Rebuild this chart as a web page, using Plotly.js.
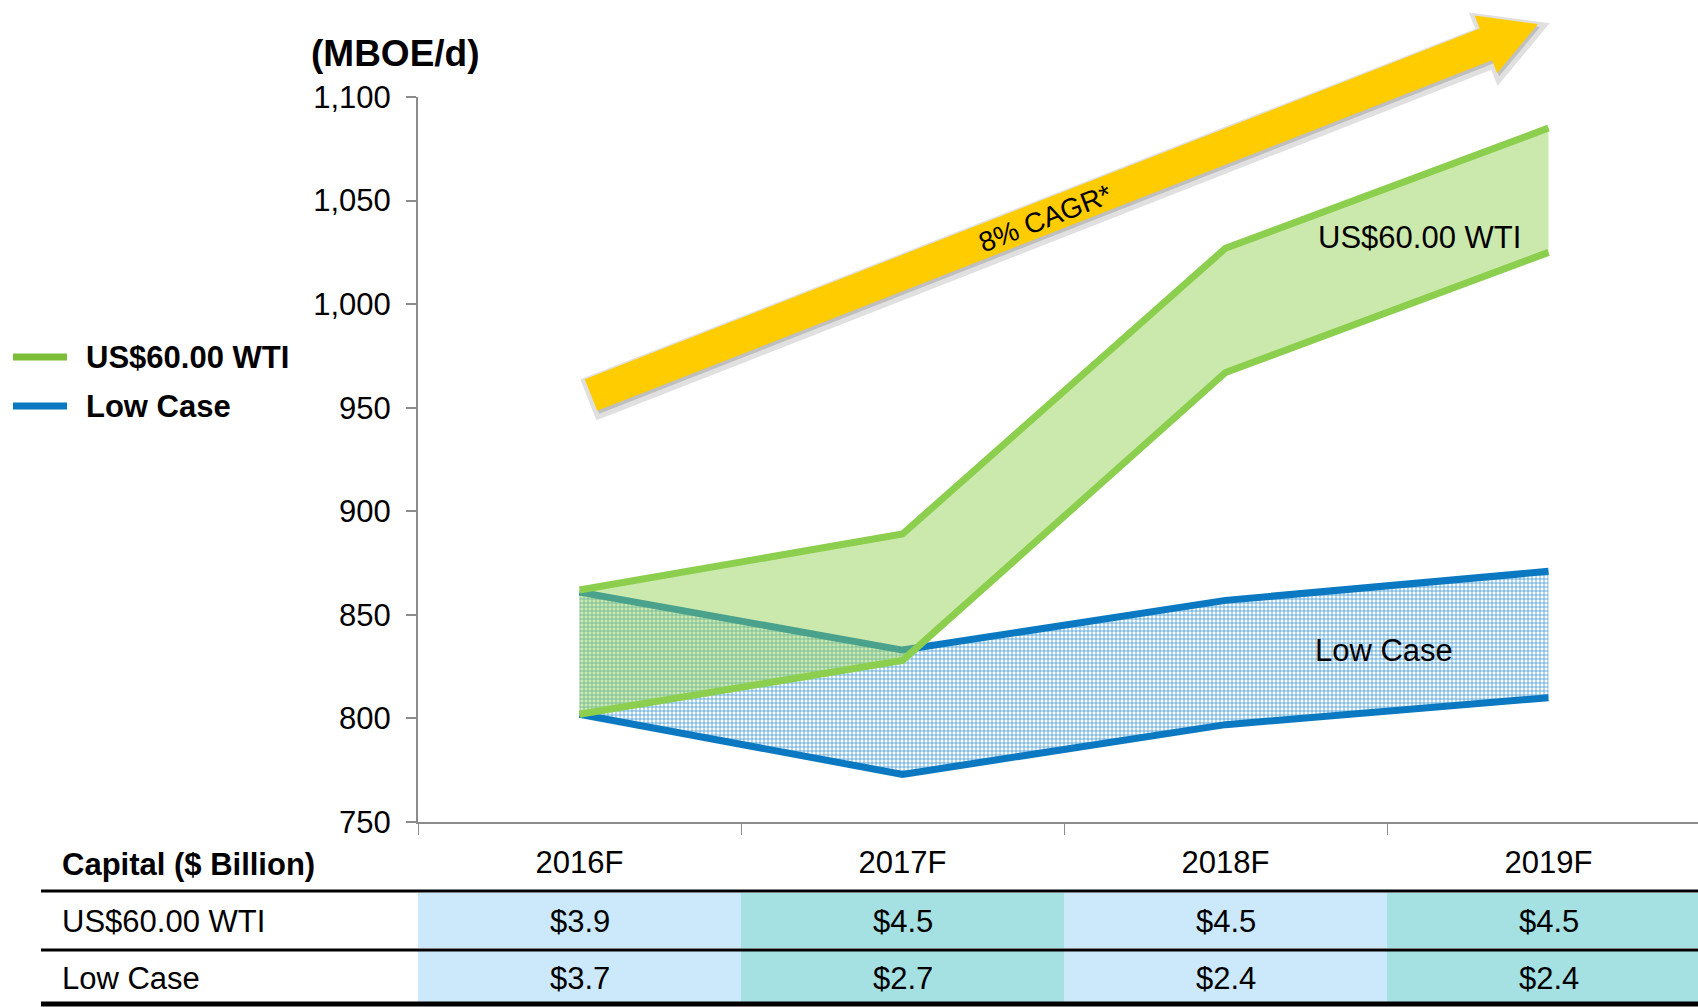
<!DOCTYPE html>
<html>
<head>
<meta charset="utf-8">
<script src="https://cdn.plot.ly/plotly-3.0.1.min.js"></script>
<style>
  body { margin: 0; background: #fff; }
  #plot { width: 1698px; height: 1007px; }
</style>
</head>
<body>
<div id="plot"></div>
<script>
// Categories and production ranges (MBOE/d)
let years = ["2016F", "2017F", "2018F", "2019F"]
let wtiHigh = [862, 889, 1027, 1085]
let wtiLow = [802, 828, 967, 1025]
let lowHigh = [861, 833, 857, 871]
let lowLow = [802, 773, 797, 810]

// Capital table ($ Billion)
let capitalRows = ["US$60.00 WTI", "Low Case"]
let capitalWti = ["$3.9", "$4.5", "$4.5", "$4.5"]
let capitalLow = ["$3.7", "$2.7", "$2.4", "$2.4"]

let font = "Liberation Sans, Arial, sans-serif"
let green = "#8ccf4e"
let blue = "#0a79c1"

// plot area in pixels, used to place decorations in paper units
let L = 418, R = 1698, T = 97, B = 822
let W = R - L, H = B - T
function px(x) { return (x - L) / W }
function py(y) { return (B - y) / H }

// Traces: band lower edge, then band upper edge filled to it
let trace1 = {
  x: years, y: lowLow, type: "scatter", mode: "lines",
  line: {color: blue, width: 7}, showlegend: false, hoverinfo: "skip"
}
let trace2 = {
  x: years, y: lowHigh, type: "scatter", mode: "lines", fill: "tonexty",
  fillcolor: "rgba(190,222,245,1)",
  fillpattern: {shape: "+", fgcolor: "#3d97d3", bgcolor: "rgba(255,255,255,1)", size: 4, solidity: 0.35},
  line: {color: blue, width: 7}, showlegend: false, hoverinfo: "skip"
}
let trace3 = {
  x: years, y: wtiLow, type: "scatter", mode: "lines",
  line: {color: green, width: 7}, showlegend: false, hoverinfo: "skip"
}
let trace4 = {
  x: years, y: wtiHigh, type: "scatter", mode: "lines", fill: "tonexty",
  fillcolor: "rgba(146,208,80,0.47)",
  line: {color: green, width: 7}, showlegend: false, hoverinfo: "skip"
}

let data = [trace1, trace2, trace3, trace4]

// Growth arrow polygon (pixels -> paper)
let tail = [591, 395], tip = [1538, 24]
let len = Math.hypot(tip[0] - tail[0], tip[1] - tail[1])
let u = [(tip[0] - tail[0]) / len, (tip[1] - tail[1]) / len]
let n = [-u[1], u[0]]
let hw = 17, hh = 31, hl = 56
let base = [tip[0] - u[0] * hl, tip[1] - u[1] * hl]
function arrowPath(dx, dy) {
  let pts = [
    [tail[0] + n[0] * hw, tail[1] + n[1] * hw],
    [base[0] + n[0] * hw, base[1] + n[1] * hw],
    [base[0] + n[0] * hh, base[1] + n[1] * hh],
    tip,
    [base[0] - n[0] * hh, base[1] - n[1] * hh],
    [base[0] - n[0] * hw, base[1] - n[1] * hw],
    [tail[0] - n[0] * hw, tail[1] - n[1] * hw]
  ]
  return pts.map((p, i) => (i ? "L" : "M") + px(p[0] + dx) + "," + py(p[1] + dy)).join(" ") + " Z"
}
let angle = Math.atan2(tip[1] - tail[1], tip[0] - tail[0]) * 180 / Math.PI

let shapes = [
  {type: "path", xref: "paper", yref: "paper", path: arrowPath(2, 3), fillcolor: "rgba(130,130,130,0.35)", line: {color: "rgba(130,130,130,0.25)", width: 10}, layer: "below"},
  {type: "path", xref: "paper", yref: "paper", path: arrowPath(0, 0), fillcolor: "#ffcc00", line: {width: 0}, layer: "below"},
  // legend keys
  {type: "line", xref: "paper", yref: "paper", x0: px(13), x1: px(67), y0: py(357), y1: py(357), line: {color: "#7bbd37", width: 7}},
  {type: "line", xref: "paper", yref: "paper", x0: px(13), x1: px(67), y0: py(406), y1: py(406), line: {color: blue, width: 7}}
]

// Table cells
let rowTop = [893, 951], rowBot = [948, 1003]
let cellColors = ["#cce9fb", "#a5e0e3"]
for (let r = 0; r < 2; r++) {
  for (let i = 0; i < years.length; i++) {
    shapes.push({
      type: "rect", xref: "x", yref: "paper", layer: "below",
      x0: i - 0.5, x1: i + 0.5, y0: py(rowBot[r]), y1: py(rowTop[r]),
      fillcolor: cellColors[i % 2], line: {width: 0}
    })
  }
}
// Table rules
let rules = [[891, 3], [950, 3], [1004, 5]]
rules.forEach(function(rl) {
  shapes.push({type: "line", xref: "paper", yref: "paper", x0: px(41), x1: 1.01, y0: py(rl[0]), y1: py(rl[0]), line: {color: "#000", width: rl[1]}})
})

function label(x, y, text, opts) {
  return Object.assign({
    xref: "paper", yref: "paper", x: x, y: y, text: text, showarrow: false,
    xanchor: "center", yanchor: "middle",
    font: {family: font, size: 31, color: "#000"}
  }, opts || {})
}

let annotations = [
  label(px(395), py(54), "<b>(MBOE/d)</b>", {font: {family: font, size: 37, color: "#000"}}),
  label(px(1045), py(218), "8% CAGR*", {textangle: angle, font: {family: font, size: 28, color: "#000"}}),
  label(2.6, 1032, "US$60.00 WTI", {xref: "x", yref: "y"}),
  label(2.49, 833, "Low Case", {xref: "x", yref: "y"}),
  label(px(84), py(357), "<b>US$60.00 WTI</b>", {xanchor: "left"}),
  label(px(84), py(406), "<b>Low Case</b>", {xanchor: "left"}),
  label(px(60), py(864), "<b>Capital ($ Billion)</b>", {xanchor: "left"})
]
let rowY = [921, 978]
capitalRows.forEach(function(name, r) {
  annotations.push(label(px(60), py(rowY[r]), name, {xanchor: "left"}))
})
let capitalVals = [capitalWti, capitalLow]
for (let r = 0; r < 2; r++) {
  for (let i = 0; i < years.length; i++) {
    annotations.push(label(i, py(rowY[r]), capitalVals[r][i], {xref: "x"}))
  }
}

let layout = {
  width: 1698,
  height: 1007,
  margin: {l: L, r: 0, t: T, b: 1007 - B},
  paper_bgcolor: "#fff",
  plot_bgcolor: "rgba(0,0,0,0)",
  showlegend: false,
  hovermode: false,
  font: {family: font, size: 31, color: "#000"},
  xaxis: {
    type: "category",
    range: [-0.5, -0.5 + W / 323],
    showline: true, linecolor: "#8c8c8c", linewidth: 2,
    ticks: "outside", tickson: "boundaries", ticklen: 11, tickcolor: "#8c8c8c", tickwidth: 1,
    showgrid: false, zeroline: false,
    ticklabelstandoff: 12,
    tickfont: {family: font, size: 31, color: "#000"}
  },
  yaxis: {
    range: [750, 1100],
    dtick: 50,
    tickformat: ",",
    showline: true, linecolor: "#8c8c8c", linewidth: 2,
    ticks: "outside", ticklen: 10, tickcolor: "#8c8c8c", tickwidth: 2,
    showgrid: false, zeroline: false,
    ticklabelstandoff: 9,
    tickfont: {family: font, size: 31, color: "#000"}
  },
  shapes: shapes,
  annotations: annotations
}

Plotly.newPlot("plot", data, layout, {displayModeBar: false, staticPlot: true})
</script>
</body>
</html>
